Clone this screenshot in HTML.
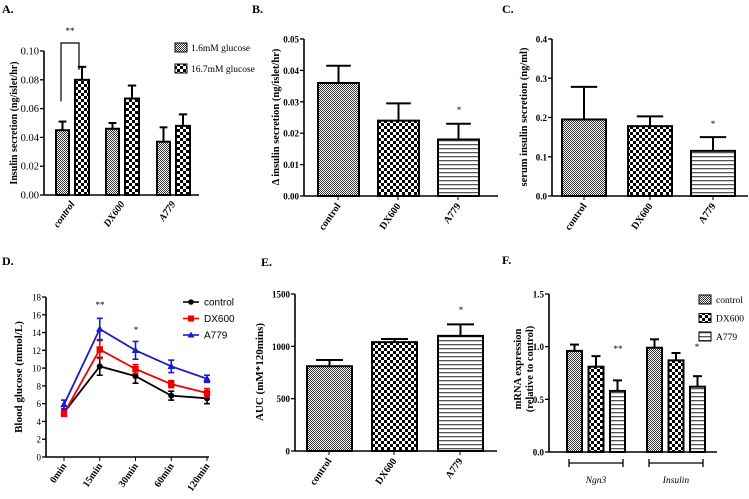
<!DOCTYPE html>
<html><head><meta charset="utf-8"><style>
html,body{margin:0;padding:0;background:#fff;}
svg{display:block;font-family:"Liberation Serif",serif;}
</style></head><body>
<svg id="fig" width="749" height="499" viewBox="0 0 749 499">
<defs>
<pattern id="pCtrl" width="2" height="2" patternUnits="userSpaceOnUse"><rect width="2" height="2" fill="#fff"/><rect width="1" height="1" fill="#333"/><rect x="1" y="1" width="1" height="1" fill="#333"/></pattern>
<pattern id="pDX" width="6" height="6" patternUnits="userSpaceOnUse"><rect width="6" height="6" fill="#fff"/><rect width="3" height="3" fill="#000"/><rect x="3" y="3" width="3" height="3" fill="#000"/></pattern>
<pattern id="pA" width="4" height="4" patternUnits="userSpaceOnUse"><rect width="4" height="4" fill="#fff"/><rect y="0" width="4" height="1.3" fill="#555"/></pattern>
</defs>
</svg>
<script>
// Panel A data
const aCats = ['control','DX600','A779'];
const aLow = [0.045, 0.046, 0.037];
const aLowErr = [0.006, 0.004, 0.010];
const aHigh = [0.080, 0.067, 0.048];
const aHighErr = [0.009, 0.009, 0.008];
const aTicks = ['0.00','0.02','0.04','0.06','0.08','0.10'];
// Panel B
const bCats = ['control','DX600','A779'];
const bVals = [0.036, 0.024, 0.018];
const bErr = [0.0055, 0.0055, 0.005];
const bTicks = ['0.00','0.01','0.02','0.03','0.04','0.05'];
// Panel C
const cCats = ['control','DX600','A779'];
const cVals = [0.195, 0.178, 0.115];
const cErr = [0.083, 0.025, 0.035];
const cTicks = ['0.0','0.1','0.2','0.3','0.4'];
// Panel D
const dTimes = ['0min','15min','30min','60min','120min'];
const dCtrl = [5.0, 10.2, 9.1, 6.9, 6.6];
const dCtrlErr = [0.4, 1.0, 0.8, 0.5, 0.6];
const dDX = [4.9, 12.1, 9.9, 8.2, 7.2];
const dDXErr = [0.3, 1.0, 0.5, 0.4, 0.5];
const dA = [5.9, 14.4, 12.0, 10.2, 8.8];
const dAErr = [0.5, 1.2, 1.0, 0.7, 0.4];
const dTicks = ['0','2','4','6','8','10','12','14','16','18'];
// Panel E
const eCats = ['control','DX600','A779'];
const eVals = [810, 1040, 1100];
const eErr = [60, 30, 110];
const eTicks = ['0','500','1000','1500'];
// Panel F
const fGenes = ['Ngn3','Insulin'];
const fCtrl = [0.96, 0.99];
const fCtrlErr = [0.06, 0.08];
const fDX = [0.81, 0.87];
const fDXErr = [0.10, 0.07];
const fA = [0.58, 0.62];
const fAErr = [0.10, 0.10];
const fTicks = ['0.0','0.5','1.0','1.5'];

const svg = document.getElementById('fig');
const NS = 'http://www.w3.org/2000/svg';
function el(tag, attrs, parent){
  const e = document.createElementNS(NS, tag);
  for (const k in attrs) e.setAttribute(k, attrs[k]);
  (parent||svg).appendChild(e);
  return e;
}
function txt(s, x, y, opts, parent){
  const t = el('text', Object.assign({x:x, y:y, 'font-size':9, 'font-weight':'bold', fill:'#000'}, opts||{}), parent);
  t.textContent = s;
  return t;
}
function linear(d0,d1,r0,r1){return v => r0 + (v-d0)/(d1-d0)*(r1-r0);}

function axes(g, x0, yBottom, yTop, xEnd, ticks, tmin, tmax, fs, bold){
  const y = linear(tmin, tmax, yBottom, yTop);
  el('line',{x1:x0,y1:yTop,x2:x0,y2:yBottom,stroke:'#000','stroke-width':1.6},g);
  el('line',{x1:x0,y1:yBottom,x2:xEnd,y2:yBottom,stroke:'#000','stroke-width':1.6},g);
  ticks.forEach(t=>{
    const v = parseFloat(t), yy = y(v);
    el('line',{x1:x0-4,y1:yy,x2:x0,y2:yy,stroke:'#000','stroke-width':1.3},g);
    const tk = txt(t, x0-5, yy+3.5, {'text-anchor':'end','font-size':fs,'font-weight':bold?'bold':'normal'}, g);
    
    
  });
  return y;
}
function bar(g, x1, x2, v, err, y, fill, name){
  const yb = y(0), yv = y(v), ye = y(v+err), cx = (x1+x2)/2;
  el('line',{x1:cx,y1:yv,x2:cx,y2:ye,stroke:'#000','stroke-width':2},g);
  el('line',{x1:cx-(x2-x1)*0.3,y1:ye,x2:cx+(x2-x1)*0.3,y2:ye,stroke:'#000','stroke-width':2},g);
  const r = el('rect',{x:x1,y:yv,width:x2-x1,height:yb-yv,fill:fill,stroke:'#000','stroke-width':2},g);
  
  
}
function xlabel(g, s, cx, y, italic){
  const t = txt(s, cx+3, y, {'text-anchor':'end','font-size':10,transform:`rotate(-55 ${cx+3} ${y})`,'font-style':italic?'italic':'normal'}, g);
  
  
}
function ytitle(g, s, x, cy, fs, bold){
  const t = txt(s, x, cy, {'text-anchor':'middle','font-size':fs,'font-weight':bold?'bold':'normal',transform:`rotate(-90 ${x} ${cy})`}, g);
  
  
}
function panelLabel(s,x,y){
  const t = txt(s,x,y,{'font-size':12});
  
  
}
const fills = ['url(#pCtrl)','url(#pDX)','url(#pA)'];

// ---------- Panel A ----------
{
  const g = el('g',{});
  
  
  panelLabel('A.',2,13);
  const y = axes(g, 44, 195, 51, 199, aTicks, 0, 0.10, 10.5, false);
  const starts = [56, 106, 157];
  aCats.forEach((c,i)=>{
    const s = starts[i];
    bar(g, s, s+13, aLow[i], aLowErr[i], y, fills[0], 'bar-low-'+c);
    bar(g, s+19, s+33, aHigh[i], aHighErr[i], y, fills[1], 'bar-high-'+c);
    xlabel(g, c, s+16, 204, true);
  });
  el('polyline',{points:`61,${y(0.065)} 61,43 79,43 79,${y(0.089)+3}`,fill:'none',stroke:'#000','stroke-width':1.2},g);
  txt('**',70,34,{'text-anchor':'middle','font-size':9,'font-weight':'normal'},g);
  ytitle(g,'Insulin secretion (ng/islet/hr)',17,123,10,true);
  const l1 = el('rect',{x:175,y:43,width:12,height:9,fill:fills[0],stroke:'#000'},g);
   
  txt('1.6mM glucose',191,51,{'font-size':9.5,'font-weight':'normal'},g);
  const l2 = el('rect',{x:175,y:64,width:12,height:9,fill:fills[1],stroke:'#000'},g);
   
  txt('16.7mM glucose',191,72,{'font-size':9.5,'font-weight':'normal'},g);
}
// ---------- Panel B ----------
{
  const g = el('g',{});
  
  
  panelLabel('B.',252,13);
  const y = axes(g, 304, 196, 39, 498, bTicks, 0, 0.05, 9, true);
  const starts = [318, 378, 438];
  bCats.forEach((c,i)=>{
    const s = starts[i];
    el('line',{x1:s+20,y1:196,x2:s+20,y2:200,stroke:'#000'},g);
    bar(g, s, s+41, bVals[i], bErr[i], y, fills[i], 'bar-'+c);
    xlabel(g, c, s+20, 206, false);
  });
  txt('*',459,113,{'text-anchor':'middle','font-size':9,'font-weight':'normal'},g);
  ytitle(g,'Δ insulin secretion (ng/islet/hr)',279,117,10.5,true);
}
// ---------- Panel C ----------
{
  const g = el('g',{});
  
  
  panelLabel('C.',502,13);
  const y = axes(g, 552, 196, 39, 748, cTicks, 0, 0.4, 9, true);
  const starts = [562, 628, 691];
  cCats.forEach((c,i)=>{
    const s = starts[i];
    el('line',{x1:s+22,y1:196,x2:s+22,y2:200,stroke:'#000'},g);
    bar(g, s, s+44, cVals[i], cErr[i], y, fills[i], 'bar-'+c);
    xlabel(g, c, s+22, 206, false);
  });
  txt('*',713,127,{'text-anchor':'middle','font-size':9,'font-weight':'normal'},g);
  ytitle(g,'serum insulin secretion (ng/ml)',527,117,10.5,true);
}
// ---------- Panel D ----------
{
  const g = el('g',{});
  
  
  panelLabel('D.',2,265);
  const y = axes(g, 46, 457, 297, 209, dTicks, 0, 18, 9, false);
  const x = linear(0, dTimes.length-1, 64, 207);
  dTimes.forEach((t,i)=>{
    el('line',{x1:x(i),y1:457,x2:x(i),y2:461,stroke:'#000'},g);
    xlabel(g, t, x(i), 466, false);
  });
  const series = [[dCtrl,dCtrlErr,'#000','circle','control'],[dDX,dDXErr,'#e00','square','DX600'],[dA,dAErr,'#1a1acc','triangle','A779']];
  series.forEach(([vals,errs,col,shape,name])=>{
    const p = el('polyline',{points:vals.map((v,i)=>x(i)+','+y(v)).join(' '),fill:'none',stroke:col,'stroke-width':1.8},g);
    
    
    vals.forEach((v,i)=>{
      const cx=x(i);
      el('line',{x1:cx,y1:y(v-errs[i]),x2:cx,y2:y(v+errs[i]),stroke:col,'stroke-width':1.6},g);
      el('line',{x1:cx-3,y1:y(v-errs[i]),x2:cx+3,y2:y(v-errs[i]),stroke:col,'stroke-width':1.6},g);
      el('line',{x1:cx-3,y1:y(v+errs[i]),x2:cx+3,y2:y(v+errs[i]),stroke:col,'stroke-width':1.6},g);
      let m;
      if(shape==='circle') m = el('circle',{cx:cx,cy:y(v),r:3,fill:col},g);
      else if(shape==='square') m = el('rect',{x:cx-3.2,y:y(v)-3.2,width:6.4,height:6.4,fill:col},g);
      else m = el('polygon',{points:`${cx},${y(v)-3.8} ${cx-3.8},${y(v)+2.7} ${cx+3.8},${y(v)+2.7}`,fill:col},g);
      
      
    });
  });
  txt('**',100,308,{'text-anchor':'middle','font-size':9,'font-weight':'normal'},g);
  txt('*',136,333,{'text-anchor':'middle','font-size':9,'font-weight':'normal'},g);
  ytitle(g,'Blood glucose (mmol/L)',22,377,11,true);
  series.forEach(([v,e,col,shape,name],i)=>{
    const ly = 302 + i*16.5;
    el('line',{x1:183,y1:ly,x2:199,y2:ly,stroke:col,'stroke-width':1.6},g);
    if(shape==='circle') el('circle',{cx:191,cy:ly,r:2.8,fill:col},g);
    else if(shape==='square') el('rect',{x:188,y:ly-3,width:6,height:6,fill:col},g);
    else el('polygon',{points:`191,${ly-3.5} 187.5,${ly+2.5} 194.5,${ly+2.5}`,fill:col},g);
    const t = txt(name,204,ly+3.5,{'font-size':10,'font-weight':'normal','font-family':'Liberation Sans, sans-serif'},g);
    
    
  });
}
// ---------- Panel E ----------
{
  const g = el('g',{});
  
  
  panelLabel('E.',261,266);
  const y = axes(g, 295, 451, 294, 497, eTicks, 0, 1500, 9, true);
  const starts = [307, 372, 438];
  eCats.forEach((c,i)=>{
    const s = starts[i];
    el('line',{x1:s+22,y1:451,x2:s+22,y2:455,stroke:'#000'},g);
    bar(g, s, s+45, eVals[i], eErr[i], y, fills[i], 'bar-'+c);
    xlabel(g, c, s+22, 461, false);
  });
  txt('*',461,313,{'text-anchor':'middle','font-size':9,'font-weight':'normal'},g);
  ytitle(g,'AUC (mM*120mins)',263,372,11,true);
}
// ---------- Panel F ----------
{
  const g = el('g',{});
  
  
  panelLabel('F.',502,264);
  const y = axes(g, 549, 452, 294, 717, fTicks, 0, 1.5, 9, true);
  const groupStart = [567, 647];
  const sets = [[fCtrl,fCtrlErr],[fDX,fDXErr],[fA,fAErr]];
  fGenes.forEach((gn,gi)=>{
    sets.forEach(([vals,errs],si)=>{
      const s = groupStart[gi] + si*21.5;
      bar(g, s, s+15, vals[gi], errs[gi], y, fills[si], 'bar-'+gn.toLowerCase()+'-'+si);
    });
    const bx1 = groupStart[gi]+2, bx2 = groupStart[gi]+56;
    el('line',{x1:bx1,y1:463,x2:bx2,y2:463,stroke:'#000','stroke-width':1.3},g);
    el('line',{x1:bx1,y1:459,x2:bx1,y2:467,stroke:'#000','stroke-width':1.3},g);
    el('line',{x1:bx2,y1:459,x2:bx2,y2:467,stroke:'#000','stroke-width':1.3},g);
    const t = txt(gn,(bx1+bx2)/2,483,{'text-anchor':'middle','font-size':9.5,'font-weight':'normal','font-style':'italic'},g);
    
    
  });
  txt('**',618,352,{'text-anchor':'middle','font-size':9,'font-weight':'normal'},g);
  txt('*',697,350,{'text-anchor':'middle','font-size':9,'font-weight':'normal'},g);
  ytitle(g,'mRNA expression',521,369,10.5,true);
  ytitle(g,'(relative to control)',533,369,10.5,true);
  ['control','DX600','A779'].forEach((n,i)=>{
    const ly = 295 + i*18.5;
    const r = el('rect',{x:699,y:ly,width:12,height:9,fill:fills[i],stroke:'#000'},g);
    
    
    txt(n,716,ly+8,{'font-size':9.5,'font-weight':'normal'},g);
  });
}
</script>
</body></html>
